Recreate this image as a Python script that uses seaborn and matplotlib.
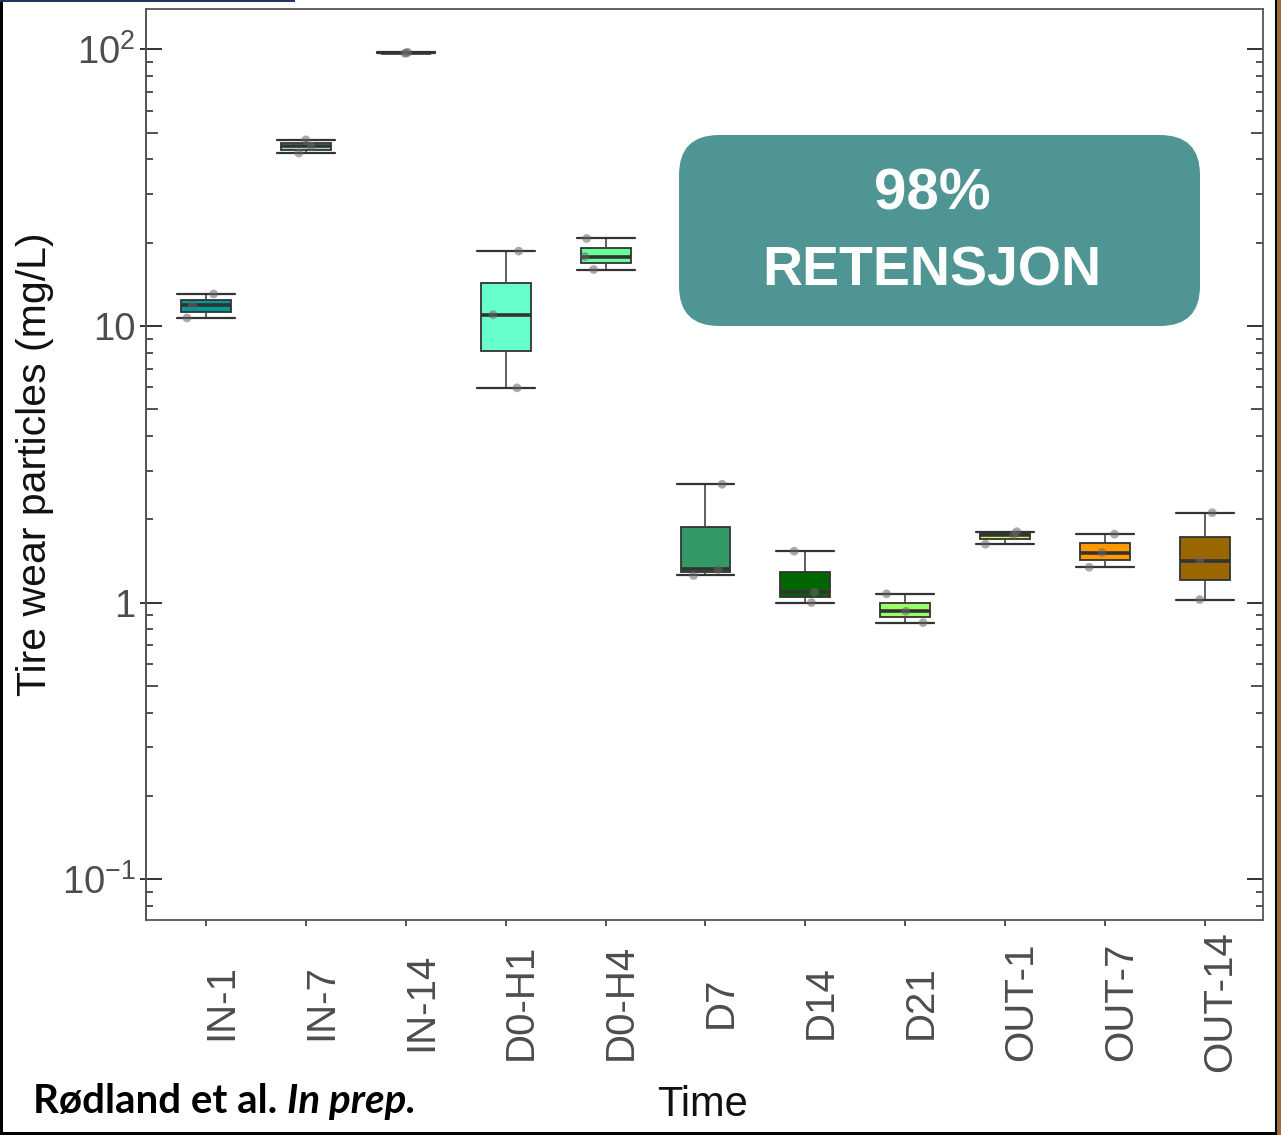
import numpy as np
import pandas as pd
import matplotlib
matplotlib.use("Agg")
import matplotlib.pyplot as plt
import matplotlib.patches as mpatches
import matplotlib.transforms as mtransforms
from matplotlib.ticker import LogLocator, NullLocator, FixedLocator, NullFormatter
import seaborn as sns

# ---------------- data ----------------
categories = ["IN-1", "IN-7", "IN-14", "D0-H1", "D0-H4", "D7", "D14", "D21",
              "OUT-1", "OUT-7", "OUT-14"]
colors = ["#009999", "#99D6CC", "#4DB3B3", "#66FFCC", "#66FF99", "#339966",
          "#006600", "#99FF66", "#CCFF66", "#FF9900", "#996600"]
# three replicate measurements per time point (mg/L)
values = [
    [13.06, 11.87, 10.69],   # IN-1
    [47.1, 44.6, 42.2],      # IN-7
    [97.6, 97.2, 96.8],      # IN-14
    [18.65, 10.99, 5.975],   # D0-H1
    [20.72, 17.83, 16.0],    # D0-H4
    [2.677, 1.317, 1.253],   # D7
    [1.534, 1.090, 1.0],     # D14
    [1.075, 0.930, 0.846],   # D21
    [1.804, 1.759, 1.626],   # OUT-1
    [1.768, 1.517, 1.342],   # OUT-7
    [2.113, 1.419, 1.025],   # OUT-14
]
# horizontal jitter of the replicate points (category units)
jitter = [
    [0.077, -0.137, -0.19],
    [0.0, 0.05, -0.07],
    [0.02, 0.007, -0.01],
    [0.13, -0.127, 0.113],
    [-0.19, -0.207, -0.12],
    [0.166, 0.126, -0.12],
    [-0.113, 0.088, 0.06],
    [-0.188, 0.005, 0.178],
    [0.116, 0.084, -0.198],
    [0.094, -0.031, -0.16],
    [0.072, -0.053, -0.053],
]
y_ticks = [0.1, 1, 10, 100]
y_ticklabels = [r"$10^{-1}$", "1", "10", r"$10^{2}$"]
x_label = "Time"
y_label = "Tire wear particles (mg/L)"
badge_line1 = "98%"
badge_line2 = "RETENSJON"
credit_main = "Rødland et al. "
credit_ital = "In prep."

rows = []
for cat, vals, jit in zip(categories, values, jitter):
    for v, j in zip(vals, jit):
        rows.append({"Time": cat, "value": v, "jit": j})
df = pd.DataFrame(rows)

# ---------------- style ----------------
sns.set_theme(style="white")
plt.rcParams["font.family"] = ["Liberation Sans", "DejaVu Sans"]
plt.rcParams["mathtext.fontset"] = "custom"
plt.rcParams["mathtext.rm"] = "Liberation Sans"
plt.rcParams["mathtext.it"] = "Liberation Sans:italic"
plt.rcParams["mathtext.bf"] = "Liberation Sans:bold"

W, H, DPI = 1281, 1135, 100
fig = plt.figure(figsize=(W / DPI, H / DPI), dpi=DPI)
fig.patch.set_facecolor("white")

ax_l, ax_r, ax_t, ax_b = 146, 1263, 8.5, 919.5
ax = fig.add_axes([ax_l / W, (H - ax_b) / H, (ax_r - ax_l) / W, (ax_b - ax_t) / H])

sns.boxplot(data=df, x="Time", y="value", hue="Time", order=categories,
            hue_order=categories, palette=colors, saturation=1, legend=False,
            ax=ax, log_scale=True, width=0.5, whis=np.inf, showfliers=False,
            linecolor="#333333", linewidth=1.3, capwidths=0.58,
            medianprops=dict(color="#333333", linewidth=2.6),
            whiskerprops=dict(color="#444444", linewidth=1.2),
            capprops=dict(color="#333333", linewidth=1.6))

pos = {c: i for i, c in enumerate(categories)}
ax.scatter(df["Time"].map(pos) + df["jit"], df["value"], s=40,
           color="#666666", alpha=0.55, edgecolor="none", zorder=5)

ax.set_yscale("log")
ax.set_ylim(10 ** -1.146, 10 ** 2.148)
ax.set_xlim(-0.6, 10.58)

for sp in ax.spines.values():
    sp.set_color("#555555")
    sp.set_linewidth(1.3)

px = 0.72  # points per pixel at 100 dpi
ax.yaxis.set_major_locator(FixedLocator(y_ticks))
ax.yaxis.set_minor_locator(LogLocator(base=10, subs=np.arange(2, 10)))
ax.yaxis.set_minor_formatter(NullFormatter())
ax.tick_params(axis="y", which="major", direction="in", length=16 * px,
               width=1.4, color="#333333", left=True, right=True,
               labelleft=False, labelright=False)
ax.tick_params(axis="y", which="minor", direction="in", length=7 * px,
               width=1.2, color="#333333", left=True, right=True)
# outward stubs + labels on the left
sec = ax.secondary_yaxis("left")
sec.set_yticks(y_ticks, labels=y_ticklabels)
sec.yaxis.set_minor_locator(NullLocator())
sec.tick_params(axis="y", which="major", direction="out", length=6 * px,
                width=1.4, color="#333333", labelsize=27.5, labelcolor="#4D4D4D",
                pad=3)
sec.spines["left"].set_color("#555555")
sec.spines["left"].set_linewidth(1.3)

# x ticks outward with rotated, centred labels
ax.tick_params(axis="x", which="major", direction="out", length=6 * px,
               width=1.2, color="#333333", bottom=True, top=False,
               labelsize=29, labelcolor="#4D4D4D", pad=55)
offset = mtransforms.ScaledTranslation(0.155, 0, fig.dpi_scale_trans)
for lab in ax.get_xticklabels():
    lab.set_rotation(90)
    lab.set_va("center")
    lab.set_ha("center")
    lab.set_transform(lab.get_transform() + offset)

# longer minor ticks at 5 x 10^k
minor_locs = ax.yaxis.get_minorticklocs()
mticks = ax.yaxis.get_minor_ticks(len(minor_locs))
for loc, t in zip(minor_locs, mticks):
    m = loc / 10 ** np.floor(np.log10(loc) + 1e-9)
    if abs(m - 5) < 1e-6:
        t.tick1line.set_markersize(12 * px)
        t.tick2line.set_markersize(12 * px)

ax.set_xlabel(x_label, fontsize=30, color="#111111")
ax.xaxis.set_label_coords((703 - ax_l) / (ax_r - ax_l), -(1085 - ax_b) / (ax_b - ax_t))
ax.set_ylabel(y_label, fontsize=29.5, color="#111111")
ax.yaxis.set_label_coords((54 - ax_l) / (ax_r - ax_l), 0.5)
ax.grid(False)

# ---------------- badge ----------------
bx0, bx1, by0, by1 = 679, 1200, 135, 326
badge = mpatches.FancyBboxPatch((bx0, H - by1), bx1 - bx0, by1 - by0,
                                boxstyle="round,pad=0,rounding_size=40",
                                transform=mtransforms.IdentityTransform(),
                                facecolor="#4E9594", edgecolor="none", zorder=10)
fig.add_artist(badge)
fig.text(932 / W, 1 - 195 / H, badge_line1, ha="center", va="center",
         fontsize=42, fontweight="bold", color="white", zorder=11)
fig.text(932 / W, 1 - 272 / H, badge_line2, ha="center", va="center",
         fontsize=40, fontweight="bold", color="white", zorder=11)

# ---------------- credit ----------------
t1 = fig.text(33 / W, 22 / H, credit_main, ha="left", va="baseline",
              fontsize=29, fontweight="bold", family=["Lato", "DejaVu Sans"],
              color="black")
fig.canvas.draw()
bb = t1.get_window_extent()
fig.text(bb.x1 / W, 22 / H, credit_ital, ha="left", va="baseline",
         fontsize=29, fontweight="bold", style="italic",
         family=["Lato", "DejaVu Sans"], color="black")

# ---------------- frame of the slide ----------------
ident = mtransforms.IdentityTransform()
for (x, y, w, h, c) in [(0, 0, 3, H, "black"), (0, 0, W, 3, "black"),
                        (1275, 0, 2, H, "black"), (1277, 0, 4, H, "#9C6B3A"),
                        (0, H - 2, 295, 2, "#1F3864")]:
    fig.add_artist(mpatches.Rectangle((x, y), w, h, transform=ident,
                                      facecolor=c, edgecolor="none", zorder=20))

fig.savefig("out.png", dpi=DPI, facecolor="white")
